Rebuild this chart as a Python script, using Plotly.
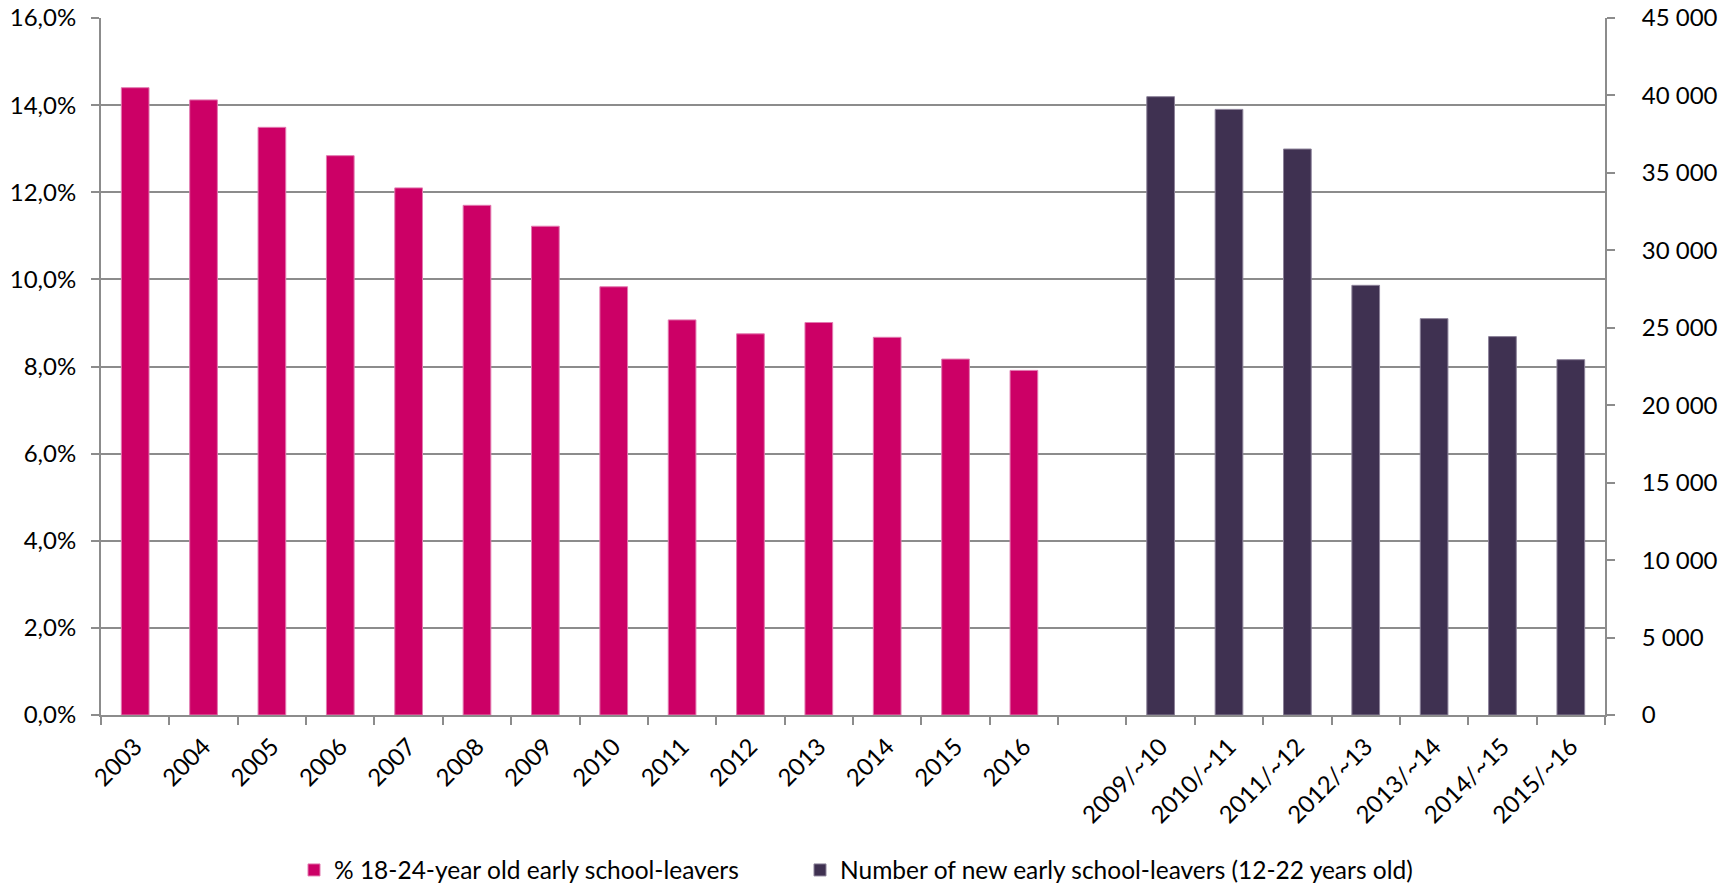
import plotly.graph_objects as go

categories = ["2003", "2004", "2005", "2006", "2007", "2008", "2009", "2010",
              "2011", "2012", "2013", "2014", "2015", "2016", " ",
              "2009/~10", "2010/~11", "2011/~12", "2012/~13", "2013/~14",
              "2014/~15", "2015/~16"]

pct_years = categories[:14]
pct_values = [0.1440, 0.1412, 0.1349, 0.1284, 0.1210, 0.1170, 0.1122, 0.0983,
              0.0907, 0.0875, 0.0901, 0.0867, 0.0817, 0.0791]

num_years = categories[15:]
num_values = [39920, 39100, 36540, 27740, 25590, 24430, 22940]

pct_name = "% 18-24-year old early school-leavers"
num_name = "Number of new early school-leavers (12-22 years old)"

PINK = "#CC0066"
PURPLE = "#3F3151"
GRID = "#8C8C8C"
FONT = "Lato"

fig = go.Figure()
fig.add_trace(go.Bar(
    x=pct_years, y=pct_values, name=pct_name,
    marker=dict(color=PINK, line=dict(color="#E27AB0", width=1)),
    width=0.405, offset=-0.2025, yaxis="y", legend="legend", showlegend=True,
))
fig.add_trace(go.Bar(
    x=num_years, y=num_values, name=num_name,
    marker=dict(color=PURPLE, line=dict(color="#8C8299", width=1)),
    width=0.405, offset=-0.2025, yaxis="y2", legend="legend2", showlegend=True,
))

tickfont = dict(family=FONT, size=24, color="#000000")
legfont = dict(family=FONT, size=24.5, color="#000000")

fig.update_layout(
    width=1721, height=886,
    margin=dict(l=101, r=116, t=18, b=171, pad=0, autoexpand=False),
    paper_bgcolor="white", plot_bgcolor="white",
    separators=", ",
    showlegend=True,
    font=dict(family=FONT, size=24, color="#000000"),
    bargap=0.6,
    xaxis=dict(
        type="category", categoryorder="array", categoryarray=categories,
        range=[-0.5, len(categories) - 0.5],
        tickmode="array", tickvals=categories, ticktext=categories,
        tickson="boundaries", ticks="outside", ticklen=8, tickwidth=2,
        tickcolor=GRID, showline=True, linecolor=GRID, linewidth=2,
        tickangle=-45, tickfont=tickfont, showgrid=False, zeroline=False,
        automargin=False, ticklabelstandoff=6,
    ),
    yaxis=dict(
        range=[0, 0.16], dtick=0.02, tick0=0, tickformat=".1%",
        showgrid=True, gridcolor=GRID, gridwidth=2,
        ticks="outside", ticklen=8, tickwidth=2, tickcolor=GRID,
        showline=True, linecolor=GRID, linewidth=2, zeroline=False,
        tickfont=tickfont, ticklabelstandoff=10, automargin=False,
    ),
    yaxis2=dict(
        overlaying="y", side="right", range=[0, 45000], dtick=5000, tick0=0,
        tickformat=",d", showgrid=False, zeroline=False,
        ticks="outside", ticklen=8, tickwidth=2, tickcolor=GRID,
        showline=True, linecolor=GRID, linewidth=2,
        tickfont=tickfont, ticklabelstandoff=22, automargin=False,
    ),
    legend=dict(
        orientation="h", x=(294 - 101) / 1504, xanchor="left",
        y=(715 - 870) / 697, yanchor="middle",
        font=legfont, bgcolor="rgba(0,0,0,0)", itemwidth=30,
    ),
    legend2=dict(
        orientation="h", x=(800 - 101) / 1504, xanchor="left",
        y=(715 - 870) / 697, yanchor="middle",
        font=legfont, bgcolor="rgba(0,0,0,0)", itemwidth=30,
    ),
)

fig.write_html("out.html")
